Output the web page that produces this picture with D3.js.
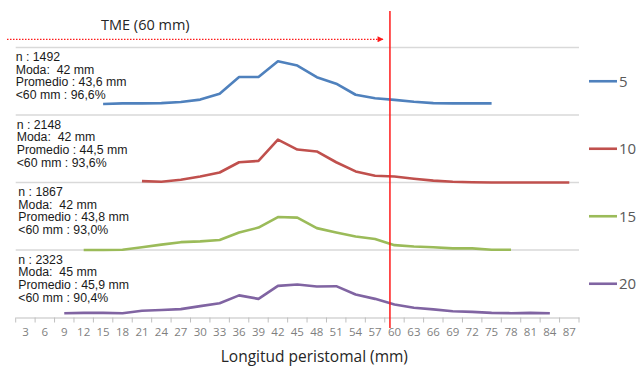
<!DOCTYPE html>
<html>
<head>
<meta charset="utf-8">
<script src="https://cdn.jsdelivr.net/npm/d3@7"></script>
<style>
  html, body { margin: 0; padding: 0; background: #fff; }
  svg text { white-space: pre; }
</style>
</head>
<body>
<svg id="chart" width="636" height="367"></svg>
<script>
  // category labels (mm)
  const lengths = ['3','6','9','12','15','18','21','24','27','30','33','36','39','42','45','48','51','54','57','60','63','66','69','72','75','78','81','84','87'];

  // series: first category present + frequency values (%)
  const s5Start = '15';
  const s5 = [4.1, 4.3, 4.3, 4.4, 4.8, 5.7, 7.9, 14.1, 14.1, 19.9, 18.3, 14.0, 11.6, 7.5, 6.2, 5.6, 4.9, 4.4, 4.3, 4.3, 4.3];
  const s10Start = '21';
  const s10 = [0.5, 0.3, 1.0, 2.2, 3.7, 7.5, 8.0, 15.9, 12.2, 11.5, 7.5, 4.1, 2.5, 2.2, 1.4, 0.7, 0.3, 0.1, 0, 0, 0, 0, 0];
  const s15Start = '12';
  const s15 = [0, 0, 0.1, 1.0, 2.0, 2.9, 3.2, 3.7, 6.5, 8.3, 12.2, 12.0, 8.1, 6.5, 5.0, 4.1, 1.8, 1.3, 1.0, 0.6, 0.6, 0.1, 0.1];
  const s20Start = '9';
  const s20 = [1.6, 1.7, 1.7, 1.6, 2.5, 2.8, 3.1, 4.2, 5.3, 8.2, 6.9, 11.7, 12.2, 11.5, 11.6, 8.5, 6.9, 4.8, 3.6, 3.0, 2.3, 2.1, 1.7, 1.6, 1.7, 1.6];

  const seriesNames = ['5', '10', '15', '20'];
  const seriesOffsets = [75, 50, 25, 0];
  const gridValues = [25, 50, 75, 100];
  const colors = ['#4f81bd', '#c0504d', '#9bbb59', '#8064a2'];

  const stats = [
    ['n : 1492', 'Moda:  42 mm', 'Promedio : 43,6 mm', '<60 mm : 96,6%'],
    ['n : 2148', 'Moda:  42 mm', 'Promedio : 44,5 mm', '<60 mm : 93,6%'],
    ['n : 1867', 'Moda:  42 mm', 'Promedio : 43,8 mm', '<60 mm : 93,0%'],
    ['n : 2323', 'Moda:  45 mm', 'Promedio : 45,9 mm', '<60 mm : 90,4%']
  ];

  const tmeLabel = 'TME (60 mm)';
  const tmePos = 59.3; // where the marker line sits on the mm axis
  const xTitle = 'Longitud peristomal (mm)';

  const svg = d3.select('#chart');
  const plotLeft = 15.7, plotRight = 579, plotTop = 47.5, plotBottom = 317.5;

  const x = d3.scaleBand().domain(lengths).range([plotLeft, plotRight]);
  const xmm = d3.scaleLinear().domain([1.5, 88.5]).range([plotLeft, plotRight]);
  const y = d3.scaleLinear().domain([0, 100]).range([plotBottom, plotTop]);

  // gridlines
  svg.append('g').selectAll('line')
    .data(gridValues)
    .enter().append('line')
    .attr('x1', plotLeft).attr('x2', plotRight)
    .attr('y1', d => y(d)).attr('y2', d => y(d))
    .attr('stroke', '#d9d9d9')
    .attr('stroke-width', 1.5);

  // x axis
  const xAxis = svg.append('g')
    .attr('transform', `translate(0,${plotBottom})`)
    .call(d3.axisBottom(x).tickSize(0).tickPadding(10));
  xAxis.select('.domain').attr('stroke', '#bfbfbf').attr('stroke-width', 1.2);
  xAxis.selectAll('text')
    .attr('fill', '#7f7f7f')
    .attr('font-family', '"Open Sans", sans-serif')
    .attr('font-size', 11.5);

  // boundary tick marks
  const bounds = lengths.map(d => x(d)).concat([plotRight]);
  xAxis.selectAll('.bound')
    .data(bounds)
    .enter().append('line')
    .attr('class', 'bound')
    .attr('x1', d => d).attr('x2', d => d)
    .attr('y1', 0).attr('y2', 5)
    .attr('stroke', '#bfbfbf');

  svg.append('text')
    .attr('x', (plotLeft + plotRight) / 2 + 17)
    .attr('y', 361.5)
    .attr('text-anchor', 'middle')
    .attr('fill', '#262626')
    .attr('font-family', '"Open Sans", sans-serif')
    .attr('font-size', 15.5)
    .text(xTitle);

  // lines
  const starts = [s5Start, s10Start, s15Start, s20Start];
  const values = [s5, s10, s15, s20];
  const series = seriesNames.map((name, k) => {
    const i0 = lengths.indexOf(starts[k]);
    return values[k].map((v, j) => ({ cat: lengths[i0 + j], v: v + seriesOffsets[k] }));
  });

  const line = d3.line()
    .x(d => x(d.cat) + x.bandwidth() / 2)
    .y(d => y(d.v));

  svg.append('g').selectAll('path')
    .data(series)
    .enter().append('path')
    .attr('d', line)
    .attr('fill', 'none')
    .attr('stroke', (d, i) => colors[i])
    .attr('stroke-width', 2.6)
    .attr('stroke-linejoin', 'round');

  // legend
  const legend = svg.append('g').selectAll('g')
    .data(seriesNames)
    .enter().append('g')
    .attr('transform', (d, i) => `translate(589,${y(seriesOffsets[i] + 12.5)})`);
  legend.append('line')
    .attr('x1', 0).attr('x2', 28)
    .attr('stroke', (d, i) => colors[i])
    .attr('stroke-width', 2.6);
  legend.append('text')
    .attr('x', 30)
    .attr('y', 5.5)
    .attr('fill', '#595959')
    .attr('font-family', '"Open Sans", sans-serif')
    .attr('font-size', 15)
    .text(d => d);

  // stats text blocks
  const blockX = [15.7, 16.7, 18.3, 18.3];
  const block = svg.append('g').selectAll('text')
    .data(stats)
    .enter().append('text')
    .attr('font-family', '"Liberation Sans", Arial, sans-serif')
    .attr('font-size', 12.3)
    .attr('fill', '#1a1a1a');
  block.selectAll('tspan')
    .data((d, k) => d.map(t => ({ t, k })))
    .enter().append('tspan')
    .attr('x', d => blockX[d.k])
    .attr('y', (d, i) => y(seriesOffsets[d.k] + 25) + 13.5 + i * 12.7)
    .text(d => d.t);

  // TME marker
  const red = '#ff1a1a';
  svg.append('line')
    .attr('x1', xmm(tmePos)).attr('x2', xmm(tmePos))
    .attr('y1', 11).attr('y2', 328)
    .attr('stroke', red)
    .attr('stroke-width', 1.5);

  svg.append('defs').append('marker')
    .attr('id', 'arrow')
    .attr('viewBox', '0 0 10 10')
    .attr('refX', 9).attr('refY', 5)
    .attr('markerWidth', 8).attr('markerHeight', 6)
    .attr('markerUnits', 'userSpaceOnUse')
    .attr('orient', 'auto')
    .append('path')
    .attr('d', 'M0,0L10,5L0,10Z')
    .attr('fill', red);

  svg.append('line')
    .attr('x1', 7).attr('x2', xmm(tmePos) - 7)
    .attr('y1', 39.3).attr('y2', 39.3)
    .attr('stroke', red)
    .attr('stroke-width', 1.3)
    .attr('stroke-dasharray', '1.5,1.5')
    .attr('marker-end', 'url(#arrow)');

  svg.append('text')
    .attr('x', 101)
    .attr('y', 29.5)
    .attr('fill', '#262626')
    .attr('font-family', '"Open Sans", sans-serif')
    .attr('font-size', 14.5)
    .text(tmeLabel);
</script>
</body>
</html>
